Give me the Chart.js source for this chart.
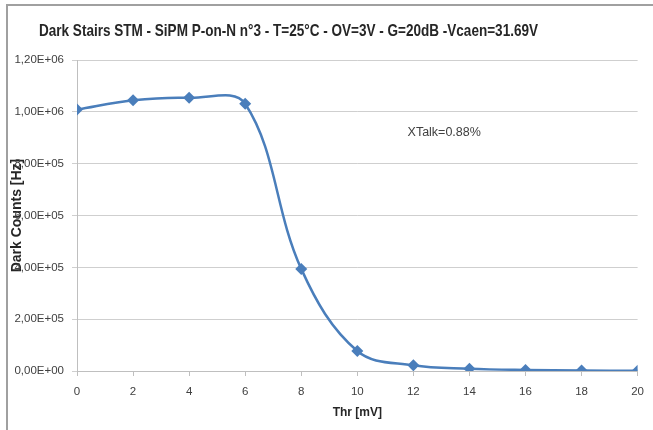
<!DOCTYPE html>
<html>
<head>
<meta charset="utf-8">
<script src="https://cdn.jsdelivr.net/npm/chart.js@4/dist/chart.umd.min.js"></script>
<style>
html,body{margin:0;padding:0;background:#fff;}
#wrap{width:653px;height:430px;}
</style>
</head>
<body>
<div id="wrap"><canvas id="c" width="653" height="430"></canvas></div>
<script>
// ---- data ----
const thresholds = [0, 2, 4, 6, 8, 10, 12, 14, 16, 18, 20];
const darkCounts = [1009000, 1045000, 1054000, 1031000, 394000, 77000, 22000, 9000, 4000, 2000, 1000];
const chartTitle = 'Dark Stairs STM - SiPM P-on-N n°3 - T=25°C - OV=3V - G=20dB -Vcaen=31.69V';
const xTitle = 'Thr [mV]';
const yTitle = 'Dark Counts [Hz]';
const noteText = 'XTalk=0.88%';
const notePos = [13.1, 920000];

const FONT = "'Liberation Sans', Arial, sans-serif";
Chart.defaults.font.family = FONT;
const TICKFONT = { family: FONT, size: 11.5 };

function fmtExp(v){
  const s = Number(v).toExponential(2);
  const [m, e] = s.split('e');
  const sign = e[0] === '-' ? '-' : '+';
  const num = e.replace(/^[+-]/, '').padStart(2, '0');
  return m.replace('.', ',') + 'E' + sign + num;
}

const framePlugin = {
  id: 'frame',
  beforeDraw(chart){
    const ctx = chart.ctx;
    ctx.save();
    ctx.fillStyle = '#ffffff';
    ctx.fillRect(0, 0, chart.width, chart.height);
    ctx.strokeStyle = '#a0a0a0';
    ctx.lineWidth = 2;
    ctx.beginPath();
    ctx.moveTo(7, chart.height);
    ctx.lineTo(7, 5);
    ctx.lineTo(chart.width, 5);
    ctx.stroke();
    ctx.restore();
  },
  afterDraw(chart){
    const ctx = chart.ctx;
    ctx.save();
    ctx.font = "bold 17px " + FONT;
    ctx.fillStyle = '#262626';
    ctx.textBaseline = 'middle';
    ctx.textAlign = 'left';
    const w = ctx.measureText(chartTitle).width;
    ctx.translate(39, 31);
    ctx.scale(499 / w, 1);
    ctx.fillText(chartTitle, 0, 0);
    ctx.restore();
    ctx.save();
    ctx.font = "12.5px " + FONT;
    ctx.fillStyle = '#404040';
    ctx.textAlign = 'center';
    ctx.textBaseline = 'middle';
    ctx.fillText(noteText, chart.scales.x.getPixelForValue(notePos[0]), chart.scales.y.getPixelForValue(notePos[1]));
    ctx.restore();
  }
};

new Chart(document.getElementById('c'), {
  type: 'line',
  data: {
    datasets: [{
      data: thresholds.map((t, i) => ({x: t, y: darkCounts[i]})),
      borderColor: '#4a7ebb',
      backgroundColor: '#4a7ebb',
      borderWidth: 2.5,
      tension: 0.37,
      pointStyle: 'rectRot',
      pointRadius: 6,
      pointBorderWidth: 0,
      pointBackgroundColor: '#4a7ebb',
      fill: false
    }]
  },
  options: {
    responsive: false,
    devicePixelRatio: 1,
    animation: false,
    layout: { padding: { left: 8, right: 8, top: 60, bottom: 8 } },
    plugins: {
      legend: { display: false },
      title: { display: false },
      tooltip: { enabled: false }
    },
    scales: {
      x: {
        type: 'linear',
        min: 0, max: 20,
        afterFit(s){ s.height = 51; },
        ticks: { stepSize: 2, color: '#404040', font: TICKFONT, padding: 9, maxRotation: 0 },
        grid: { drawOnChartArea: false, drawTicks: true, tickLength: 5, color: '#bfbfbf' },
        border: { color: '#bfbfbf', width: 1 },
        title: { display: true, text: xTitle, color: '#262626', font: { size: 12, weight: 'bold' }, padding: { top: 0, bottom: 2 } }
      },
      y: {
        min: 0, max: 1200000,
        afterFit(s){ s.width = 69; },
        ticks: { stepSize: 200000, color: '#404040', font: TICKFONT, padding: 8, callback: v => fmtExp(v) },
        grid: { drawOnChartArea: true, drawTicks: true, tickLength: 5, color: '#cfcfcf' },
        border: { color: '#bfbfbf', width: 1 },
        title: { display: true, text: yTitle, color: '#262626', font: { size: 14, weight: 'bold' }, padding: { top: 1, bottom: 0 } }
      }
    }
  },
  plugins: [framePlugin]
});
</script>
</body>
</html>
